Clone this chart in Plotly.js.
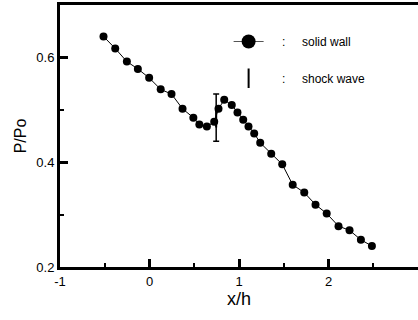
<!DOCTYPE html>
<html>
<head>
<meta charset="utf-8">
<script src="https://cdn.plot.ly/plotly-3.0.1.min.js"></script>
<style>html,body{margin:0;padding:0;background:#fff;}#chart{width:418px;height:320px;}</style>
</head>
<body>
<div id="chart"></div>
<script>
// Solid wall pressure distribution
const wallX = [-0.514, -0.383, -0.253, -0.130, -0.004, 0.125, 0.246, 0.369, 0.490, 0.557,
               0.641, 0.723, 0.771, 0.835, 0.919, 0.983, 1.047, 1.106, 1.170, 1.237,
               1.360, 1.483, 1.600, 1.729, 1.855, 1.980, 2.112, 2.235, 2.362, 2.485];
const wallP = [0.640, 0.617, 0.592, 0.578, 0.561, 0.539, 0.530, 0.502, 0.485, 0.472,
               0.468, 0.477, 0.502, 0.519, 0.509, 0.495, 0.481, 0.468, 0.455, 0.437,
               0.416, 0.396, 0.357, 0.342, 0.319, 0.302, 0.278, 0.270, 0.252, 0.240];
// Shock wave position with its extent
const shockX = [0.745];
const shockP = [0.485];
const shockErr = [0.045];

const xTicks = [-1, 0, 1, 2];
const xTickText = ['-1', '0', '1', '2'];
const yTicks = [0.2, 0.4, 0.6];
const yTickText = ['0.2', '0.4', '0.6'];
const xMinor = [-0.5, 0.5, 1.5, 2.5];
const yMinor = [0.3, 0.5];

const font = 'Liberation Sans, Arial, sans-serif';
const nb = n => '\u00a0'.repeat(n);
const X_RANGE = [-1, 3], Y_RANGE = [0.2, 0.7];

const traces = [
  {
    x: wallX, y: wallP, type: 'scatter', mode: 'lines+markers',
    showlegend: false,
    line: {color: '#000', width: 1},
    marker: {color: '#000', size: 8}
  },
  {
    x: [null], y: [null], type: 'scatter', mode: 'lines+markers',
    name: nb(4) + ':' + nb(5) + 'solid wall',
    line: {color: '#555', width: 1},
    marker: {color: '#000', size: 14},
    legend: 'legend'
  },
  {
    x: shockX, y: shockP, type: 'scatter', mode: 'markers',
    name: nb(4) + ':' + nb(5) + 'shock wave',
    marker: {color: '#000', size: 14, symbol: 'line-ns-open', line: {color: '#000', width: 2}},
    error_y: {type: 'data', array: shockErr, visible: true, color: '#000', thickness: 1.5, width: 3},
    legend: 'legend2'
  },
  {x: [null], y: [null], xaxis: 'x2', yaxis: 'y2', type: 'scatter', mode: 'markers', showlegend: false, hoverinfo: 'skip'}
];

const layout = {
  width: 418, height: 320,
  margin: {l: 60, r: 0, t: 5, b: 53},
  paper_bgcolor: '#fff', plot_bgcolor: '#fff',
  font: {family: font, color: '#000', size: 13},
  showlegend: true,
  legend: {x: 0.471, y: 0.916, xanchor: 'left', yanchor: 'top', bgcolor: 'rgba(0,0,0,0)',
           font: {size: 12, family: font}},
  legend2: {x: 0.471, y: 0.776, xanchor: 'left', yanchor: 'top', bgcolor: 'rgba(0,0,0,0)',
           font: {size: 12, family: font}},
  xaxis: {
    range: X_RANGE, tickmode: 'array', tickvals: xTicks, ticktext: xTickText,
    ticks: 'inside', ticklen: 8, tickwidth: 3, tickcolor: '#000',
    showline: true, linewidth: 3, linecolor: '#000', mirror: true,
    showgrid: false, zeroline: false,
    tickfont: {size: 13},
    title: {text: 'x/h', font: {size: 18}, standoff: 4}
  },
  yaxis: {
    range: Y_RANGE, tickmode: 'array', tickvals: yTicks, ticktext: yTickText,
    ticks: 'inside', ticklen: 8, tickwidth: 3, tickcolor: '#000',
    showline: true, linewidth: 3, linecolor: '#000', mirror: false,
    showgrid: false, zeroline: false,
    tickfont: {size: 13},
    title: {text: 'P/Po', font: {size: 16}, standoff: 6}
  },
  xaxis2: {
    overlaying: 'x', anchor: 'y2', side: 'bottom', range: X_RANGE,
    tickmode: 'array', tickvals: xMinor, showticklabels: false,
    ticks: 'inside', ticklen: 4, tickwidth: 2, tickcolor: '#000',
    showline: false, showgrid: false, zeroline: false
  },
  yaxis2: {
    overlaying: 'y', anchor: 'x2', side: 'left', range: Y_RANGE,
    tickmode: 'array', tickvals: yMinor, showticklabels: false,
    ticks: 'inside', ticklen: 4, tickwidth: 2, tickcolor: '#000',
    showline: false, showgrid: false, zeroline: false
  }
};

Plotly.newPlot('chart', traces, layout, {displayModeBar: false, staticPlot: true});
</script>
</body>
</html>
